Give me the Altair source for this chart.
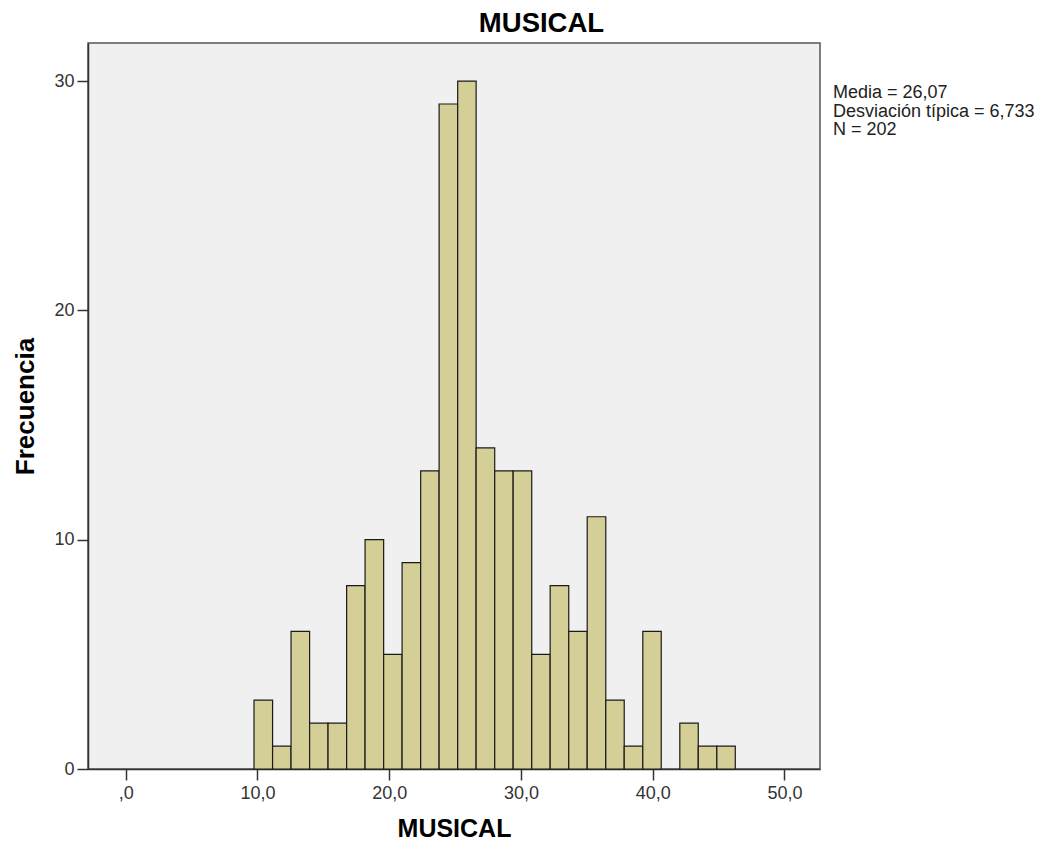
import altair as alt
import pandas as pd

# Histogram bins (lower and upper edges) and their counts
bin_lo = [9.74, 11.15, 12.55, 13.96, 15.36, 16.77, 18.17, 19.58, 20.98, 22.39,
          23.79, 25.20, 26.60, 28.01, 29.41, 30.82, 32.22, 33.63, 35.03, 36.44,
          37.84, 39.25, 40.65, 42.06, 43.46, 44.87]
bin_hi = [11.15, 12.55, 13.96, 15.36, 16.77, 18.17, 19.58, 20.98, 22.39, 23.79,
          25.20, 26.60, 28.01, 29.41, 30.82, 32.22, 33.63, 35.03, 36.44, 37.84,
          39.25, 40.65, 42.06, 43.46, 44.87, 46.27]
counts = [3, 1, 6, 2, 2, 8, 10, 5, 9, 13,
          29, 30, 14, 13, 13, 5, 8, 6, 11, 3,
          1, 6, 0, 2, 1, 1]

x_ticks = [0, 10, 20, 30, 40, 50]
y_ticks = [0, 10, 20, 30]
stats_lines = ["Media = 26,07", "Desviación típica = 6,733", "N = 202"]
chart_title = "MUSICAL"

df = pd.DataFrame({"lo": bin_lo, "hi": bin_hi, "count": counts})
df = df[df["count"] > 0]

FONT = "Liberation Sans"

x_scale = alt.Scale(domain=[-2.86, 52.7], nice=False, zero=False)
y_scale = alt.Scale(domain=[0, 31.66], nice=False)

bars = alt.Chart(df).mark_rect(
    fill="#d3cf97", stroke="#1a1a1a", strokeWidth=1.2
).encode(
    x=alt.X("lo:Q", scale=x_scale,
            axis=alt.Axis(values=x_ticks, title="MUSICAL",
                          labelExpr="datum.value == 0 ? ',0' : replace(format(datum.value, '.1f'), '.', ',')",
                          titleFont=FONT, titleFontSize=25, titleFontWeight="bold",
                          titleColor="#000", titleY=67, titleBaseline="alphabetic",
                          labelFont=FONT, labelFontSize=18, labelColor="#333",
                          labelPadding=4, tickSize=11, tickColor="#333", tickWidth=1.5,
                          domainColor="#333", domainWidth=1.5, grid=False)),
    x2="hi:Q",
    y=alt.Y("count:Q", scale=y_scale,
            axis=alt.Axis(values=y_ticks, title="Frecuencia", format="d",
                          titleFont=FONT, titleFontSize=26, titleFontWeight="bold",
                          titleColor="#000", titleX=-55, titleY=363,
                          titleBaseline="alphabetic", titleAngle=-90,
                          labelFont=FONT, labelFontSize=18, labelColor="#333",
                          labelPadding=3, tickSize=11, tickColor="#333", tickWidth=1.5,
                          domainColor="#333", domainWidth=1.5, grid=False)),
    y2=alt.datum(0),
)

one = pd.DataFrame({"t": [0]})

stats = alt.Chart(one).mark_text(
    align="left", baseline="alphabetic", font=FONT, fontSize=18,
    lineHeight=18.5, color="#222"
).encode(
    x=alt.value(745), y=alt.value(55), text=alt.value(stats_lines)
)

title = alt.Chart(one).mark_text(
    align="center", baseline="alphabetic", font=FONT, fontSize=27.5,
    fontWeight="bold", color="#000"
).encode(
    x=alt.value(453.5), y=alt.value(-11), text=alt.value(chart_title)
)

chart = alt.layer(bars, stats, title).properties(
    width=732, height=726,
    autosize=alt.AutoSizeParams(type="none"),
    padding={"left": 80, "top": 35, "right": 220, "bottom": 72},
).configure(
    background="white"
).configure_view(
    fill="#f0f0f0", stroke="#555", strokeWidth=1.5
)

chart.save("out.html", embed_options={"renderer": "svg", "actions": False})
